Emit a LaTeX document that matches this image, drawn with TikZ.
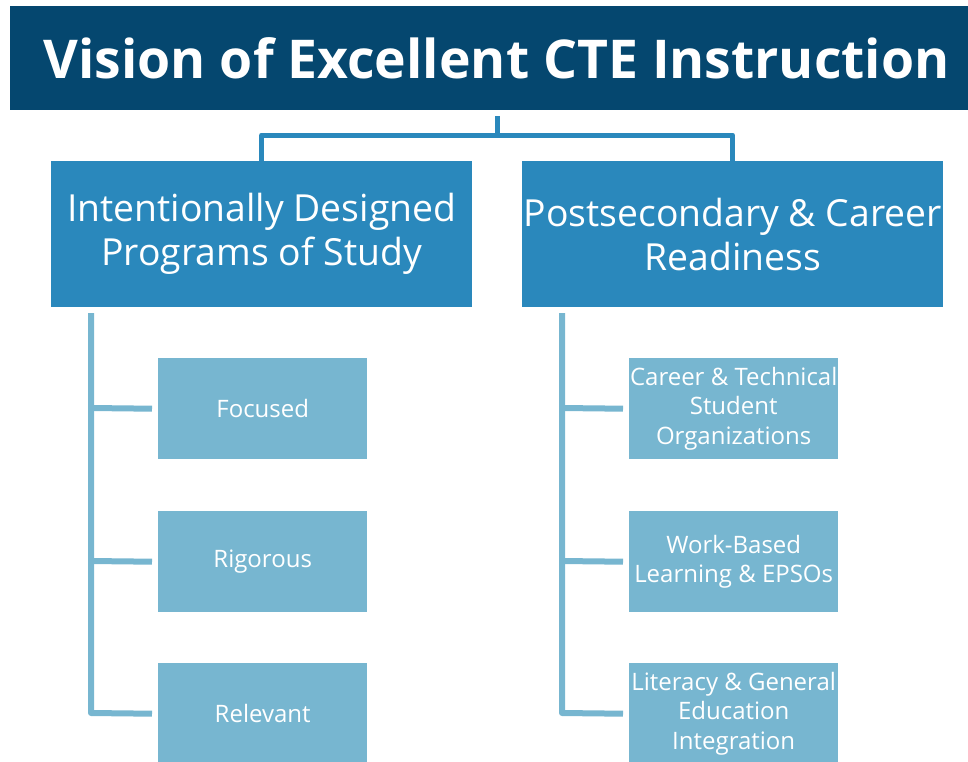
\documentclass[tikz,border=0pt]{standalone}
\usepackage{fontspec}
\setmainfont{Open Sans}
\definecolor{titlebg}{HTML}{05476F}
\definecolor{midbg}{HTML}{2A88BC}
\definecolor{leafbg}{HTML}{77B6D0}
\tikzset{
  titlebox/.style={fill=titlebg, text=white, minimum width=975pt, minimum height=104pt, anchor=north west, inner sep=0pt, font=\fontsize{53.5}{60}\selectfont\bfseries},
  midbox/.style={fill=midbg, text=white, minimum width=421pt, minimum height=146pt, anchor=north west, inner sep=0pt, align=center, font=\fontsize{37.3}{44}\selectfont},
  leafbox/.style={fill=leafbg, text=white, minimum width=209pt, minimum height=101pt, anchor=north west, inner sep=0pt, align=center, font=\fontsize{24}{29.5}\selectfont},
  topline/.style={draw=midbg, line width=5pt, line join=round},
  leafline/.style={draw=leafbg, line width=6pt, line join=round}
}
\begin{document}
\begin{tikzpicture}[x=1pt,y=-1pt]
\useasboundingbox (0,0) rectangle (968,761);
\node[titlebox] (title) at (10,6) {\hspace*{-2pt}Vision of Excellent CTE Instruction};
\node[midbox] (ids) at (51,161) {Intentionally Designed\\Programs of Study};
\node[midbox] (pcr) at (522,161) {Postsecondary \& Career\\Readiness};
\node[leafbox] (foc) at (158,358) {Focused};
\node[leafbox] (rig) at (158,511) {Rigorous};
\node[leafbox] (rel) at (158,663) {Relevant};
\node[leafbox] (ctso) at (629,358) {Career \& Technical\\Student\\Organizations};
\node[leafbox] (wbl) at (629,511) {Work-Based\\Learning \& EPSOs};
\node[leafbox] (lit) at (629,663) {Literacy \& General\\Education\\Integration};
% top connectors
\coordinate (stub) at (497,116);
\draw[topline] (stub) -- (497,135);
\draw[topline] ([yshift=-6pt]ids.north) -- (ids.north |- 0,135) -- (pcr.north |- 0,135) -- ([yshift=-6pt]pcr.north);
% left leaf connectors
\draw[leafline] (91,313) -- (91,713) -- ([xshift=-6pt]rel.west);
\draw[leafline] (91,408) -- ([xshift=-6pt]foc.west);
\draw[leafline] (91,561) -- ([xshift=-6pt]rig.west);
% right leaf connectors
\draw[leafline] (562,313) -- (562,713) -- ([xshift=-6pt]lit.west);
\draw[leafline] (562,408) -- ([xshift=-6pt]ctso.west);
\draw[leafline] (562,561) -- ([xshift=-6pt]wbl.west);
\end{tikzpicture}
\end{document}
